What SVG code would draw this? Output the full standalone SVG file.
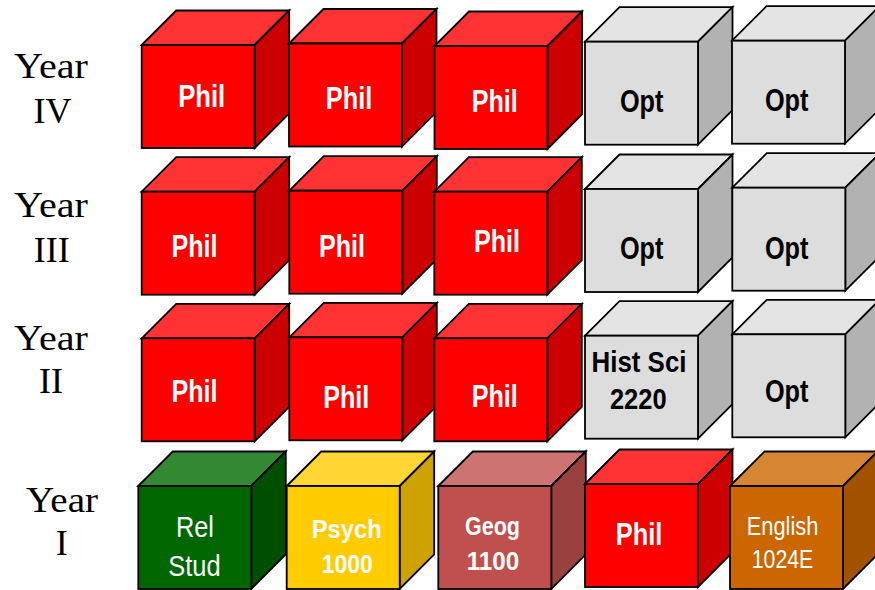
<svg xmlns="http://www.w3.org/2000/svg" xmlns:xlink="http://www.w3.org/1999/xlink" width="875" height="590" viewBox="0 0 875 590">
<style>
  .ft, .tp, .sd { stroke:#000; stroke-width:1.8; stroke-linejoin:miter; }
  .ft { fill:var(--f); } .tp { fill:var(--t); } .sd { fill:var(--s); }
  .red { --f:#FF0000; --t:#FF3333; --s:#CC0000; }
  .grey { --f:#DDDDDD; --t:#E4E4E4; --s:#B2B2B2; }
  .green { --f:#006600; --t:#338833; --s:#004F00; }
  .yellow { --f:#FFCC00; --t:#FFD633; --s:#CCA300; }
  .geog { --f:#C0504D; --t:#CD7371; --s:#9A403E; }
  .orange { --f:#CC6600; --t:#D68533; --s:#A35200; }
  text { font-family:"Liberation Sans", Arial, sans-serif; text-anchor:middle; }
  .lb { font-weight:bold; fill:#fff; }
  .lr { font-weight:normal; fill:#fff; }
  .lk { font-weight:bold; fill:#000; }
  .yr { font-family:"Liberation Serif", "Times New Roman", serif; font-size:36px; fill:#000; }
</style>
<defs>
  <g id="cube">
    <path class="tp" d="M0,0 L34.5,-34.5 L147.5,-34.5 L113,0 Z"/>
    <path class="sd" d="M113,0 L147.5,-34.5 L147.5,68.5 L113,103 Z"/>
    <rect class="ft" x="0" y="0" width="113" height="103"/>
  </g>
</defs>

<g id="year-labels">
  <text class="yr" x="51" y="78.3" textLength="74" lengthAdjust="spacingAndGlyphs">Year</text>
  <text class="yr" x="52.5" y="123.3">IV</text>
  <text class="yr" x="51" y="216.7" textLength="74" lengthAdjust="spacingAndGlyphs">Year</text>
  <text class="yr" x="51.7" y="261.7">III</text>
  <text class="yr" x="51" y="350" textLength="74" lengthAdjust="spacingAndGlyphs">Year</text>
  <text class="yr" x="51" y="393.3">II</text>
  <text class="yr" x="62" y="511.7" textLength="72" lengthAdjust="spacingAndGlyphs">Year</text>
  <text class="yr" x="61.7" y="555">I</text>
</g>

<!-- Year IV -->
<g id="y4c1" class="cube red"><use xlink:href="#cube" transform="translate(141.7,45)"/><text class="lb" x="201.7" y="106.7" font-size="31" textLength="47" lengthAdjust="spacingAndGlyphs">Phil</text></g>
<g id="y4c2" class="cube red"><use xlink:href="#cube" transform="translate(289,43.5)"/><text class="lb" x="349" y="109.3" font-size="31" textLength="46.5" lengthAdjust="spacingAndGlyphs">Phil</text></g>
<g id="y4c3" class="cube red"><use xlink:href="#cube" transform="translate(434.5,46)"/><text class="lb" x="494.7" y="111.7" font-size="31" textLength="46" lengthAdjust="spacingAndGlyphs">Phil</text></g>
<g id="y4c4" class="cube grey"><use xlink:href="#cube" transform="translate(585,41.7)"/><text class="lk" x="641.7" y="112" font-size="30.5" textLength="43.5" lengthAdjust="spacingAndGlyphs">Opt</text></g>
<g id="y4c5" class="cube grey"><use xlink:href="#cube" transform="translate(732,40.7)"/><text class="lk" x="786.7" y="110.5" font-size="30.5" textLength="43.5" lengthAdjust="spacingAndGlyphs">Opt</text></g>

<!-- Year III -->
<g id="y3c1" class="cube red"><use xlink:href="#cube" transform="translate(141.7,191.7)"/><text class="lb" x="194.5" y="256.7" font-size="31" textLength="46" lengthAdjust="spacingAndGlyphs">Phil</text></g>
<g id="y3c2" class="cube red"><use xlink:href="#cube" transform="translate(289.3,190.7)"/><text class="lb" x="342" y="257.3" font-size="31" textLength="46" lengthAdjust="spacingAndGlyphs">Phil</text></g>
<g id="y3c3" class="cube red"><use xlink:href="#cube" transform="translate(434.3,191.7)"/><text class="lb" x="497" y="251.7" font-size="31" textLength="46" lengthAdjust="spacingAndGlyphs">Phil</text></g>
<g id="y3c4" class="cube grey"><use xlink:href="#cube" transform="translate(585,189)"/><text class="lk" x="641.7" y="259" font-size="30.5" textLength="43.5" lengthAdjust="spacingAndGlyphs">Opt</text></g>
<g id="y3c5" class="cube grey"><use xlink:href="#cube" transform="translate(732.3,187.7)"/><text class="lk" x="786.7" y="259" font-size="30.5" textLength="43.5" lengthAdjust="spacingAndGlyphs">Opt</text></g>

<!-- Year II -->
<g id="y2c1" class="cube red"><use xlink:href="#cube" transform="translate(141.7,338.3)"/><text class="lb" x="194.5" y="401.7" font-size="31" textLength="46" lengthAdjust="spacingAndGlyphs">Phil</text></g>
<g id="y2c2" class="cube red"><use xlink:href="#cube" transform="translate(289.3,337.3)"/><text class="lb" x="346.3" y="408.3" font-size="31" textLength="46" lengthAdjust="spacingAndGlyphs">Phil</text></g>
<g id="y2c3" class="cube red"><use xlink:href="#cube" transform="translate(434.3,338.3)"/><text class="lb" x="494.7" y="407.3" font-size="31" textLength="46" lengthAdjust="spacingAndGlyphs">Phil</text></g>
<g id="y2c4" class="cube grey"><use xlink:href="#cube" transform="translate(585,335.7)"/><text class="lk" x="639" y="371.7" font-size="30" textLength="95" lengthAdjust="spacingAndGlyphs">Hist Sci</text><text class="lk" x="638.3" y="409.3" font-size="30" textLength="56.7" lengthAdjust="spacingAndGlyphs">2220</text></g>
<g id="y2c5" class="cube grey"><use xlink:href="#cube" transform="translate(732.3,334.3)"/><text class="lk" x="786.7" y="402.3" font-size="30.5" textLength="43.5" lengthAdjust="spacingAndGlyphs">Opt</text></g>

<!-- Year I -->
<g id="y1c1" class="cube green"><use xlink:href="#cube" transform="translate(138.3,486)"/><text class="lr" x="195" y="537.3" font-size="29" textLength="38" lengthAdjust="spacingAndGlyphs">Rel</text><text class="lr" x="194.5" y="576" font-size="29" textLength="52.4" lengthAdjust="spacingAndGlyphs">Stud</text></g>
<g id="y1c2" class="cube yellow"><use xlink:href="#cube" transform="translate(286.7,486)"/><text class="lb" x="346.7" y="538.3" font-size="26" textLength="70" lengthAdjust="spacingAndGlyphs">Psych</text><text class="lb" x="347.2" y="573.3" font-size="26" textLength="51" lengthAdjust="spacingAndGlyphs">1000</text></g>
<g id="y1c3" class="cube geog"><use xlink:href="#cube" transform="translate(438.3,486)"/><text class="lb" x="492.5" y="535" font-size="25" textLength="55" lengthAdjust="spacingAndGlyphs">Geog</text><text class="lb" x="493" y="570" font-size="25" textLength="52.6" lengthAdjust="spacingAndGlyphs">1100</text></g>
<g id="y1c4" class="cube red"><use xlink:href="#cube" transform="translate(585,484)"/><text class="lb" x="639" y="545" font-size="31" textLength="46.6" lengthAdjust="spacingAndGlyphs">Phil</text></g>
<g id="y1c5" class="cube orange"><use xlink:href="#cube" transform="translate(730,486)"/><text class="lr" x="782.5" y="535" font-size="25" textLength="71.6" lengthAdjust="spacingAndGlyphs">English</text><text class="lr" x="782.5" y="567.7" font-size="25" textLength="61.6" lengthAdjust="spacingAndGlyphs">1024E</text></g>

<g id="connectors"></g>
</svg>
